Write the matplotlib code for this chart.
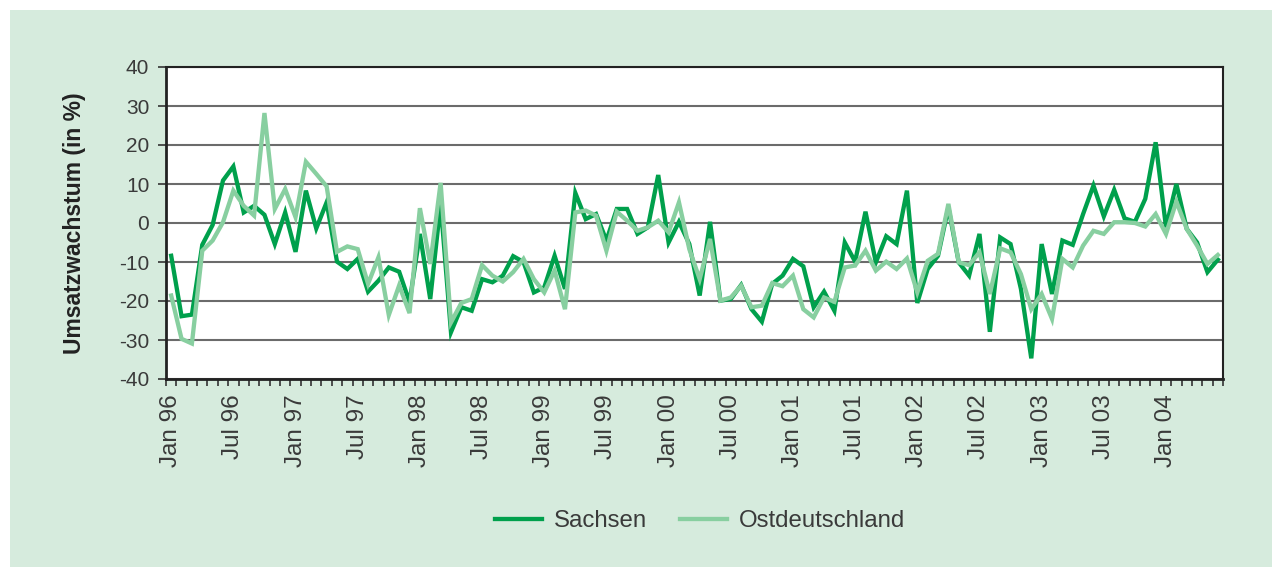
"""
Umsatzwachstum Sachsen vs. Ostdeutschland, monatlich Jan 96 - Jun 04.
"""

import matplotlib.pyplot as plt
import numpy as np
from matplotlib.patches import Rectangle
from matplotlib.ticker import FixedLocator

plt.rcParams["font.family"] = ["Liberation Sans", "DejaVu Sans"]

################## Daten ##################

monate = ["Jan", "Feb", "Mär", "Apr", "Mai", "Jun", "Jul", "Aug", "Sep", "Okt", "Nov", "Dez"]
jahre = ["96", "97", "98", "99", "00", "01", "02", "03", "04"]
n_monate = 102  # Jan 96 bis Jun 04

sachsen = [
    -8.4, -23.9, -23.5, -5.6, -0.5, 10.9, 14.5, 2.7, 4.4, 2.1, -5.4, 2.7,
    -7.4, 8.3, -1.4, 5.3, -9.9, -11.8, -9.2, -17.6, -14.8, -11.4, -12.5, -20.3,
    -2.8, -19.5, 5.0, -28.0, -21.6, -22.5, -14.4, -15.2, -13.5, -8.5, -10.0, -17.8,
    -16.5, -8.4, -16.9, 7.7, 1.0, 2.3, -4.5, 3.6, 3.6, -2.8, -1.1, 12.3,
    -5.0, 0.3, -5.4, -18.6, 0.3, -19.9, -19.5, -15.9, -22.1, -25.3, -15.6, -13.5,
    -9.2, -11.1, -21.6, -17.6, -22.5, -5.0, -9.9, 2.9, -10.1, -3.4, -5.4, 8.3,
    -20.5, -11.8, -8.4, 4.0, -10.1, -13.5, -2.8, -27.9, -3.7, -5.4, -16.9, -34.7,
    -5.4, -18.2, -4.5, -5.6, 2.3, 9.6, 1.7, 8.5, 1.2, 0.3, 6.2, 20.7,
    -1.1, 10.0, -1.5, -5.0, -12.6, -9.4,
]

ostdeutschland = [
    -18.6, -29.7, -30.9, -7.1, -4.5, 0.2, 8.3, 4.4, 1.9, 28.2, 3.6, 8.7,
    1.5, 15.7, 12.6, 9.4, -7.4, -6.0, -6.7, -15.6, -8.8, -23.6, -16.0, -23.1,
    3.8, -10.5, 10.3, -25.5, -20.5, -19.5, -10.8, -13.5, -15.0, -12.6, -9.2, -14.4,
    -17.8, -12.2, -22.1, 2.7, 3.2, 1.9, -7.1, 2.9, 0.6, -2.0, -1.1, 0.6,
    -2.4, 5.3, -6.7, -14.4, -4.1, -19.9, -19.1, -16.1, -21.6, -21.2, -15.4, -16.2,
    -13.5, -22.1, -24.2, -19.1, -20.2, -11.4, -10.9, -7.1, -12.2, -9.9, -11.8, -9.1,
    -17.8, -9.7, -7.9, 4.9, -10.1, -10.8, -7.5, -18.2, -6.5, -7.5, -13.1, -22.1,
    -18.2, -24.6, -9.2, -11.4, -5.8, -2.0, -2.8, 0.2, 0.2, 0.0, -0.9, 2.3,
    -2.8, 5.5, -1.5, -5.8, -10.5, -8.2,
]

y_ticks = [-40, -30, -20, -10, 0, 10, 20, 30, 40]

################## Grafik ##################

farbe_sachsen = "#00a04c"
farbe_ost = "#88cfa0"
farbe_hintergrund = "#d6ebdd"
farbe_text = "#3a3a3a"

fig = plt.figure(figsize=(12.82, 5.77), dpi=100, facecolor="white")
fig.patches.append(
    Rectangle((10 / 1282, 10 / 577), 1262 / 1282, 557 / 577,
              transform=fig.transFigure, facecolor=farbe_hintergrund,
              edgecolor="none", zorder=-10)
)

ax = fig.add_axes([166 / 1282, 1 - 379 / 577, 1057 / 1282, 312 / 577])
ax.set_zorder(5)
ax.set_facecolor("white")

x = np.arange(n_monate)
ax.plot(x, sachsen, color=farbe_sachsen, lw=3.1, solid_joinstyle="miter",
        label="Sachsen", zorder=3)
ax.plot(x, ostdeutschland, color=farbe_ost, lw=3.1, solid_joinstyle="miter",
        label="Ostdeutschland", zorder=4)

ax.set_xlim(-0.5, n_monate - 0.5)
ax.set_ylim(-40, 40)

# Beschriftung nur Jan/Jul, Striche zwischen den Monaten
pos_labels = list(range(0, n_monate, 6))
labels = [f"{monate[p % 12]} {jahre[p // 12]}" for p in pos_labels]
ax.set_xticks(pos_labels)
ax.set_xticklabels(labels, rotation=90, fontsize=17.5, color=farbe_text)
ax.xaxis.set_minor_locator(FixedLocator(np.arange(-0.5, n_monate, 1.0)))
ax.tick_params(axis="x", which="major", length=0, pad=11)
ax.tick_params(axis="x", which="minor", length=5, width=1.2, color="#333333")

ax.set_yticks(y_ticks)
ax.set_yticklabels([str(v) for v in y_ticks], fontsize=15, color=farbe_text)
ax.tick_params(axis="y", length=6, width=1.2, color="#333333", pad=6)

ax.grid(axis="y", color="#6b6b6b", lw=1.5, zorder=1)
ax.set_axisbelow(True)
for spine in ax.spines.values():
    spine.set_color("#222222")
    spine.set_linewidth(1.5)
ax.spines["left"].set_linewidth(2)
ax.spines["bottom"].set_linewidth(2)

ax.set_ylabel("Umsatzwachstum (in %)", fontsize=16.5, fontweight="bold",
              color="#222222")
ax.yaxis.set_label_coords(-0.0755, 0.5)

fig.legend(loc="center", bbox_to_anchor=(0.546, 0.097), ncol=2, frameon=False,
           fontsize=17.3, handlelength=1.95, handletextpad=0.5, columnspacing=1.37,
           labelcolor=farbe_text)

plt.savefig("out.png", dpi=100, facecolor=fig.get_facecolor())
plt.close()
